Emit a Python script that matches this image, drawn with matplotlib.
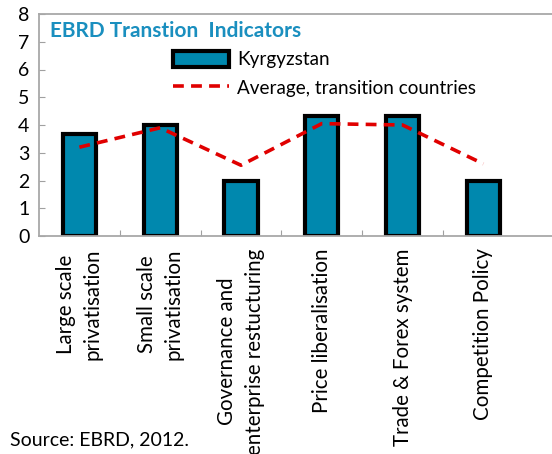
import matplotlib
matplotlib.use("Agg")
import matplotlib.pyplot as plt
import numpy as np

categories = [
    "Large scale\nprivatisation",
    "Small scale\nprivatisation",
    "Governance and\nenterprise restucturing",
    "Price liberalisation",
    "Trade & Forex system",
    "Competition Policy",
]
kyrgyzstan = [3.67, 4.0, 2.0, 4.33, 4.33, 2.0]
average = [3.2, 3.9, 2.55, 4.05, 4.0, 2.6]

plt.rcParams["font.family"] = ["Lato", "DejaVu Sans"]

fig = plt.figure(figsize=(5.52, 4.54), dpi=100)
ax = fig.add_axes([39 / 552, 218 / 454, 1 - 39 / 552, 222 / 454])

x = np.arange(len(categories))
bars = ax.bar(x, kyrgyzstan, width=0.41, color="#0088AE", edgecolor="black",
              linewidth=3.0, label="Kyrgyzstan", zorder=2)
line, = ax.plot(x, average, color="#E00000", linestyle=(0, (3, 2)),
                linewidth=2.6, label="Average, transition countries", zorder=3)

ax.set_xlim(-0.5, 5.85)
ax.set_ylim(0, 8)
ax.set_yticks(range(0, 9))
ax.tick_params(axis="y", direction="in", length=4, color="#A0A0A0",
               labelsize=14, pad=7)

ax.set_xticks(np.arange(0.5, 5, 1.0))
ax.set_xticklabels([])
ax.set_xticks(x, minor=True)
ax.set_xticklabels(categories, minor=True, rotation=90, fontsize=14.8,
                   va="top", ha="center", linespacing=1.45)
ax.tick_params(axis="x", which="major", direction="in", length=4,
               color="#A0A0A0")
ax.tick_params(axis="x", which="minor", length=0, pad=9)

for side in ["left", "top", "bottom"]:
    ax.spines[side].set_color("#A8A8A8")
    ax.spines[side].set_linewidth(1.3)
ax.spines["right"].set_visible(False)

ax.text(0.021, 0.895, "EBRD Transtion  Indicators", transform=ax.transAxes,
        fontsize=15, fontweight="bold", color="#1A8FBF")

ax.legend(handles=[bars, line], loc="upper left",
          bbox_to_anchor=(0.235, 0.895), frameon=False,
          fontsize=13.6, handlelength=3.0, handleheight=1.0,
          labelspacing=0.55, handletextpad=0.4, borderpad=0.2)

fig.text(10 / 552, 1 - 440 / 454, "Source: EBRD, 2012.", fontsize=14,
         va="center")

fig.savefig("out.png", dpi=100)
